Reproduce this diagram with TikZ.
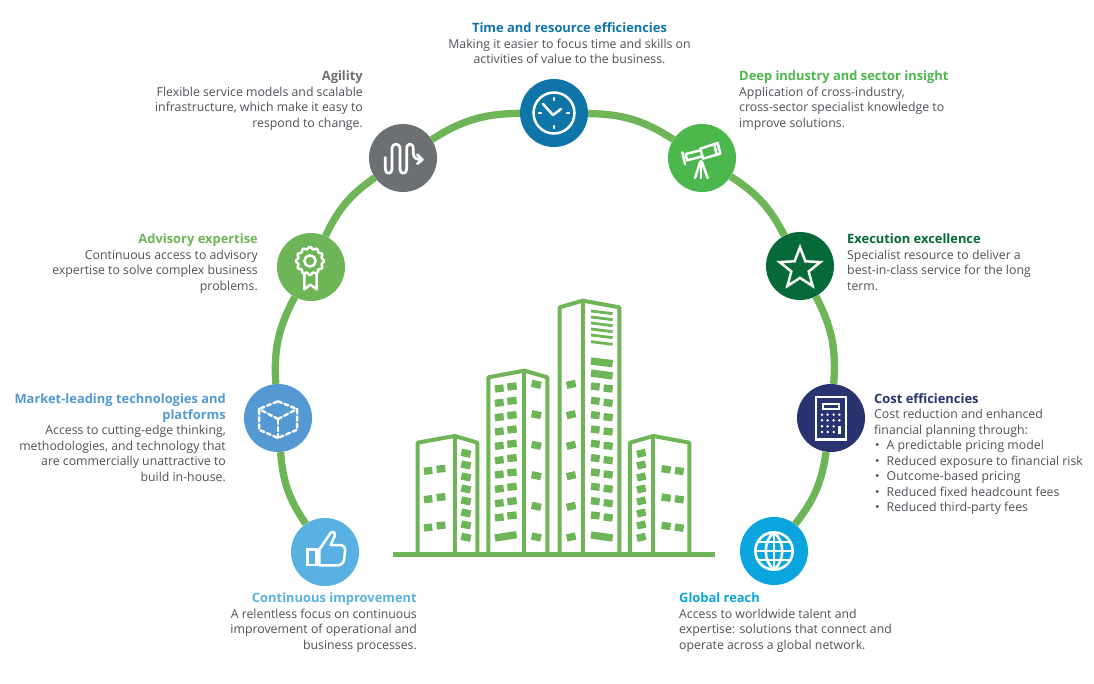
\documentclass[tikz,border=0pt]{standalone}
\usepackage{fontspec}
\setmainfont{Open Sans}
\usetikzlibrary{calc}
\definecolor{cClock}{HTML}{0F75A8}
\definecolor{cAgil}{HTML}{6D7073}
\definecolor{cTele}{HTML}{4CB74C}
\definecolor{cStar}{HTML}{056A37}
\definecolor{cCalc}{HTML}{29336F}
\definecolor{cGlobe}{HTML}{0AA5DF}
\definecolor{cThumb}{HTML}{58B1E2}
\definecolor{cCube}{HTML}{5499D2}
\definecolor{cAdv}{HTML}{6DB557}
\definecolor{cBody}{HTML}{4D5258}
\tikzset{
  disc/.style={circle,minimum size=68pt,inner sep=0pt,fill=#1},
  ringarc/.style={draw=cAdv,line width=7.3pt},
  icon/.style={draw=white,line width=2.5pt,line join=round,line cap=round},
  bld/.style={draw=cAdv,line width=4pt,line join=round},
  win/.style={draw=cAdv,line width=7.3pt},
  barw/.style={draw=cAdv,line width=2.8pt},
  txt/.style={inner sep=0pt,font=\fontsize{12.3pt}{15.5pt}\selectfont,text=cBody},
  txtL/.style={txt,anchor=north west,align=left},
  txtR/.style={txt,anchor=north east,align=right},
  txtC/.style={txt,anchor=north,align=center},
}
\newcommand{\ttl}[2]{\textcolor{#1}{\fontsize{12.9pt}{15.5pt}\selectfont\textbf{#2}}}
\newcommand{\bul}[1]{\hspace*{1pt}\makebox[11.5pt][l]{•}#1}
\begin{document}
\begin{tikzpicture}[x=1pt,y=-1pt]
\useasboundingbox (0,0) rectangle (1094,683);
\fill[white] (0,0) rectangle (1094,683);
% discs
\node[disc=cClock] (clock) at (554,113) {};
\node[disc=cAgil] (agil) at (403,158) {};
\node[disc=cTele] (tele) at (702,158) {};
\node[disc=cAdv] (adv) at (311,267) {};
\node[disc=cStar] (star) at (800,266) {};
\node[disc=cCube] (cube) at (278,418) {};
\node[disc=cCalc] (calc) at (831,418) {};
\node[disc=cThumb] (thumb) at (325,552) {};
\node[disc=cGlobe] (globe) at (774,551) {};
% ring
\draw[ringarc] (thumb) to[bend left=15] (cube);
\draw[ringarc] (cube) to[bend left=16] (adv);
\draw[ringarc] (adv) to[bend left=15] (agil);
\draw[ringarc] (agil) to[bend left=16] (clock);
\draw[ringarc] (clock) to[bend left=16] (tele);
\draw[ringarc] (tele) to[bend left=15] (star);
\draw[ringarc] (star) to[bend left=16] (calc);
\draw[ringarc] (calc) to[bend left=15] (globe);
% clock icon
\begin{scope}[shift={(clock)}]
\draw[icon] (0,0) circle (20.5);
\draw[icon] (-11,-9) -- (-1,2) -- (7,-4);
\foreach \a/\b/\c/\d in {0/-15/0/-13,0/13/0/15,-15/0/-13/0,13/0/15/0}
  \draw[icon] (\a,\b) -- (\c,\d);
\end{scope}
% agility icon
\begin{scope}[shift={(368,123)},scale=0.3333]
\draw[icon,line width=2.7pt] (52,103) -- (52,138)
 .. controls (52,155) and (72,155) .. (72,138) -- (72,78)
 .. controls (72,58) and (96,58) .. (96,78) -- (96,138)
 .. controls (96,155) and (116,155) .. (116,138) -- (116,78)
 .. controls (116,58) and (136,58) .. (136,78) -- (136,90)
 .. controls (136,105) and (145,110) .. (162,110);
\draw[icon,line width=2.7pt] (148,95) -- (163,110) -- (148,122);
\end{scope}
% telescope icon
\begin{scope}[shift={(667,123)},scale=0.3333]
\draw[icon] (100,77) -- (152,60) -- (160,92) -- (108,107) -- cycle;
\draw[icon] (100,82) -- (56,93) -- (60,112) -- (106,100);
\draw[icon] (46,88) -- (54,124);
\draw[icon] (142,63) -- (149,95);
\draw[icon] (100,115) -- (84,165);
\draw[icon] (102,115) -- (102,165);
\draw[icon] (104,115) -- (122,165);
\end{scope}
% advisory icon
\begin{scope}[shift={(276,232)},scale=0.3333]
\draw[icon] plot[domain=0:360,samples=121,smooth]
  ({102+(39+3*cos(12*\x))*cos(\x)},{87+(39+3*cos(12*\x))*sin(\x)}) -- cycle;
\draw[icon] (102,87) circle (17);
\draw[icon] (85,127) -- (85,172) -- (103,158) -- (122,172) -- (122,127);
\end{scope}
% star icon
\begin{scope}[shift={(800,268.7)}]
\draw[icon,line join=miter] (0,-21.4) -- (5.4,-7.4) -- (20.4,-6.6) -- (8.7,2.8) -- (12.6,17.3) -- (0,9.2) -- (-12.6,17.3) -- (-8.7,2.8) -- (-20.4,-6.6) -- (-5.4,-7.4) -- cycle;
\end{scope}
% cube icon
\begin{scope}[shift={(cube)}]
\draw[icon,dash pattern=on 4pt off 3pt] (0,-16.7) -- (19,-9) -- (19,11.7) -- (0,20) -- (-19,11.7) -- (-19,-9) -- cycle;
\draw[icon,dash pattern=on 4pt off 3pt] (0,20) -- (0,1);
\draw[icon,dash pattern=on 4pt off 3pt] (0,1) -- (19,-9);
\draw[icon,dash pattern=on 4pt off 3pt] (0,1) -- (-19,-9);
\end{scope}
% thumb icon
\begin{scope}[shift={(290,517)},scale=0.3333]
\draw[icon,line join=miter] (52,98) rectangle (80,144);
\draw[icon] (88,98) -- (120,50)
 .. controls (125,40) and (138,45) .. (134,57) -- (122,84) -- (148,84)
 .. controls (162,84) and (167,92) .. (165,105) -- (162,128)
 .. controls (160,140) and (152,145) .. (142,145) -- (88,145) -- cycle;
\end{scope}
% calculator icon
\begin{scope}[shift={(796,383)},scale=0.3333]
\draw[icon,line width=2.4pt,line join=miter] (60,42) rectangle (150,170);
\draw[icon,line width=1.8pt,line join=miter] (80,62) rectangle (130,78);
\foreach \x in {78,95,113,130} \foreach \y in {95,112}
  \fill[white] (\x,\y) circle (4.2);
\foreach \x in {78,95,113} \foreach \y in {130,147}
  \fill[white] (\x,\y) circle (4.2);
\draw[icon,line width=2.6pt,line cap=butt] (130,128) -- (130,153);
\end{scope}
% globe icon
\begin{scope}[shift={(739,516)},scale=0.3333]
\draw[icon,line width=2.6pt] (105,105) circle (56);
\draw[icon,line width=2.6pt] (105,49) .. controls (72,75) and (72,135) .. (105,161);
\draw[icon,line width=2.6pt] (105,49) .. controls (138,75) and (138,135) .. (105,161);
\draw[icon,line width=2.6pt] (105,49) -- (105,161);
\draw[icon,line width=2.6pt] (56,78) -- (154,78);
\draw[icon,line width=2.6pt] (49,105) -- (161,105);
\draw[icon,line width=2.6pt] (56,132) -- (154,132);
\end{scope}
% buildings
\begin{scope}[shift={(380,280)},scale=0.3333]
\draw[draw=cAdv,line width=4.4pt] (38,823) -- (1005,823);
\draw[bld] (113,818) -- (113,488) -- (224,468) -- (292,488) -- (292,818);
\draw[bld] (224,468) -- (224,818);
\draw[bld] (325,818) -- (325,292) -- (433,272) -- (502,292) -- (502,818);
\draw[bld] (433,272) -- (433,818);
\draw[bld] (539,818) -- (539,82) -- (608,62) -- (718,82) -- (718,818);
\draw[bld] (608,62) -- (608,818);
\draw[bld] (750,818) -- (750,488) -- (820,468) -- (928,488) -- (928,818);
\draw[bld] (820,468) -- (820,818);
% b1
\foreach \y in {573,658,743} {
 \draw[win] (132,\y+1) -- (157,\y-2);
 \draw[win] (170,\y-5) -- (196,\y-8);
}
\foreach \y in {520,555,591,627,663,699,735,772}
 \draw[win] (244,\y-3) -- (272,\y+3);
% b2
\foreach \y in {326,369,412,455,498,541,584,627,670,713} {
 \draw[win] (345,\y+1) -- (371,\y-2);
 \draw[win] (382,\y-5) -- (410,\y-8);
}
\draw[win] (345,774) -- (410,764);
\foreach \y in {313,404,496,587,679,771}
 \draw[win] (455,\y-3) -- (483,\y+3);
% b3
\foreach \y in {313,404,496,587,679,771}
 \draw[win] (560,\y+3) -- (587,\y-3);
\foreach \y in {320,363,406,449,492,535,578,621,664,707} {
 \draw[win] (633,\y-2) -- (659,\y+1);
 \draw[win] (671,\y+4) -- (698,\y+7);
}
\draw[win] (633,243) -- (698,251);
\draw[win] (633,279) -- (698,288);
\draw[win] (633,765) -- (698,774);
\foreach \y in {93,111,129,147,165,185}
 \draw[barw] (633,\y) -- (698,\y+8);
% b4
\foreach \y in {520,555,591,627,663,699,735,772}
 \draw[win] (771,\y+3) -- (797,\y-3);
\foreach \y in {567,652,737} {
 \draw[win] (845,\y-1) -- (872,\y+3);
 \draw[win] (885,\y+4) -- (911,\y+8);
}
\end{scope}
% texts
\node[txtC] (tTime) at (569.5,22.8) {\ttl{cClock}{Time and resource efficiencies}\\Making it easier to focus time and skills on\\activities of value to the business.};
\node[txtR] (tAgil) at (363,70.5) {\ttl{cAgil}{Agility}\\Flexible service models and scalable\\infrastructure, which make it easy to\\respond to change.};
\node[txtL] (tDeep) at (739,70.5) {\ttl{cTele}{Deep industry and sector insight}\\Application of cross-industry,\\cross-sector specialist knowledge to\\improve solutions.};
\node[txtL] (tExec) at (847,233.5) {\ttl{cStar}{Execution excellence}\\Specialist resource to deliver a\\best-in-class service for the long\\term.};
\node[txtR] (tAdv) at (258,233.5) {\ttl{cAdv}{Advisory expertise}\\Continuous access to advisory\\expertise to solve complex business\\problems.};
\node[txtR] (tMkt) at (226,393.5) {\ttl{cCube}{Market-leading technologies and}\\\ttl{cCube}{platforms}\\Access to cutting-edge thinking,\\methodologies, and technology that\\are commercially unattractive to\\build in-house.};
\node[txtL] (tCost) at (874,393.2) {\ttl{cCalc}{Cost efficiencies}\\Cost reduction and enhanced\\financial planning through:\\\bul{A predictable pricing model}\\\bul{Reduced exposure to financial risk}\\\bul{Outcome-based pricing}\\\bul{Reduced fixed headcount fees}\\\bul{Reduced third-party fees}};
\node[txtR] (tCont) at (417,592.5) {\ttl{cThumb}{Continuous improvement}\\A relentless focus on continuous\\improvement of operational and\\business processes.};
\node[txtL] (tGlob) at (679,592.5) {\ttl{cGlobe}{Global reach}\\Access to worldwide talent and\\expertise: solutions that connect and\\operate across a global network.};
\end{tikzpicture}
\end{document}
